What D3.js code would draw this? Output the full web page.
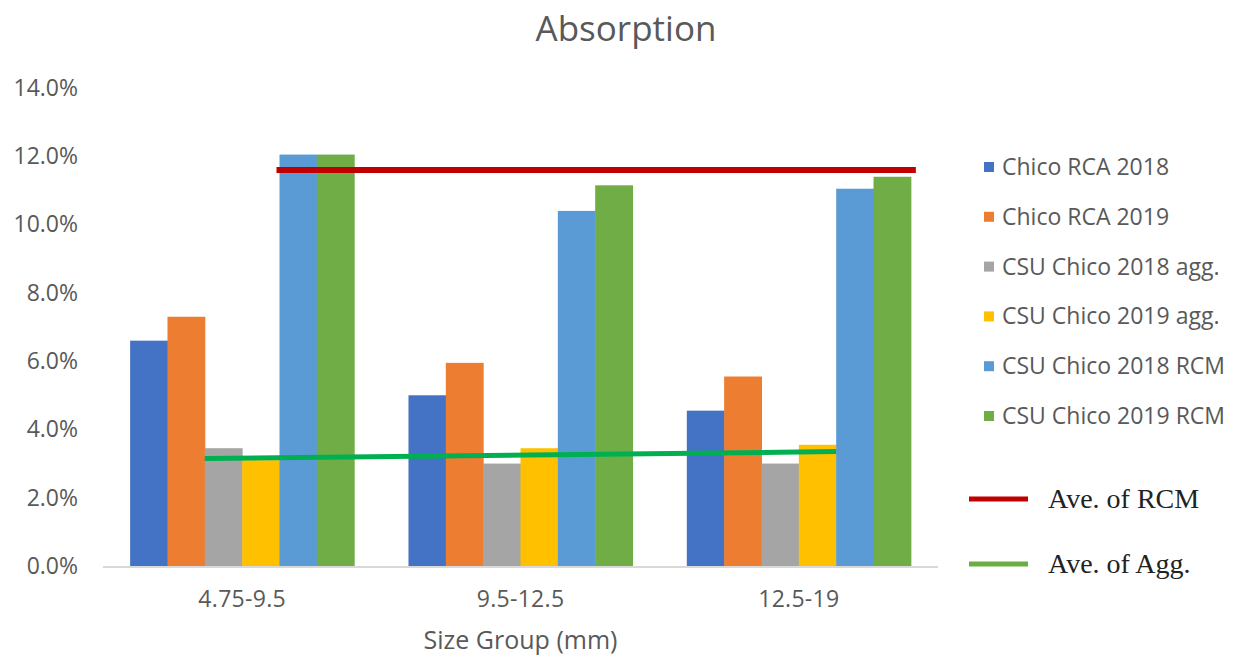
<!DOCTYPE html>
<html>
<head>
<meta charset="utf-8">
<script src="https://cdn.jsdelivr.net/npm/d3@7"></script>
<style>
    body { margin: 0; background: #fff; }
    svg text { font-family: "Open Sans", Lato, sans-serif; fill: #595959; }
</style>
</head>
<body>
<div id="chart"></div>
<script>
// categories (size groups)
const categories = ["4.75-9.5", "9.5-12.5", "12.5-19"];
const seriesNames = ["Chico RCA 2018", "Chico RCA 2019", "CSU Chico 2018 agg.",
    "CSU Chico 2019 agg.", "CSU Chico 2018 RCM", "CSU Chico 2019 RCM"];
// values in %
const chicoRca2018 = [6.6, 5.0, 4.55];
const chicoRca2019 = [7.3, 5.95, 5.55];
const csu2018Agg = [3.45, 3.0, 3.0];
const csu2019Agg = [3.1, 3.45, 3.55];
const csu2018Rcm = [12.05, 10.4, 11.05];
const csu2019Rcm = [12.05, 11.15, 11.4];
// the two hand drawn average lines (start, end)
const aveRcm = [11.6, 11.6];
const aveAgg = [3.15, 3.35];
const yTicks = [0, 2, 4, 6, 8, 10, 12, 14];

const allSeries = [chicoRca2018, chicoRca2019, csu2018Agg, csu2019Agg, csu2018Rcm, csu2019Rcm];
const colors = ["#4472c4", "#ed7d31", "#a5a5a5", "#ffc000", "#5b9bd5", "#70ad47"];

let width = 1237, height = 658;
let margin = {top: 88, right: 299, bottom: 92, left: 103};

let svg = d3.select("#chart").append("svg")
    .attr("width", width)
    .attr("height", height);

let x0 = d3.scaleBand()
    .domain(categories)
    .range([margin.left, width - margin.right])
    .paddingInner(0.195)
    .paddingOuter(0.0975);

let x1 = d3.scaleBand()
    .domain(d3.range(seriesNames.length))
    .range([0, x0.bandwidth()]);

let y = d3.scaleLinear()
    .domain([0, 14])
    .range([height - margin.bottom, margin.top]);

// title
svg.append("text")
    .attr("x", 626)
    .attr("y", 41)
    .attr("text-anchor", "middle")
    .style("font-size", "35px")
    .text("Absorption");

// y axis, labels only
let gy = svg.append("g")
    .attr("transform", "translate(" + (margin.left - 25) + ",0)")
    .call(d3.axisLeft(y).tickValues(yTicks).tickSize(0)
        .tickFormat(function (d) { return d.toFixed(1) + "%"; }));
gy.select(".domain").remove();
gy.selectAll("text")
    .attr("x", 0)
    .style("font-size", "23px")
    .style("fill", "#595959");

// bars
let groups = svg.selectAll(".grp")
    .data(categories)
    .enter()
    .append("g")
    .attr("transform", function (d) { return "translate(" + x0(d) + ",0)"; });

groups.selectAll("rect")
    .data(function (d, i) {
        return allSeries.map(function (s, j) { return {j: j, v: s[i]}; });
    })
    .enter()
    .append("rect")
    .attr("x", function (d) { return x1(d.j); })
    .attr("width", x1.bandwidth() + 0.5)
    .attr("y", function (d) { return y(d.v); })
    .attr("height", function (d) { return y(0) - y(d.v); })
    .style("fill", function (d) { return colors[d.j]; });

// baseline
svg.append("line")
    .attr("x1", margin.left)
    .attr("x2", width - margin.right)
    .attr("y1", y(0) + 1)
    .attr("y2", y(0) + 1)
    .style("stroke", "#d9d9d9")
    .style("stroke-width", 2);

// x labels
let gx = svg.append("g")
    .attr("transform", "translate(0," + y(0) + ")")
    .call(d3.axisBottom(x0).tickSize(0).tickPadding(25));
gx.select(".domain").remove();
gx.selectAll("text")
    .style("font-size", "23px")
    .style("letter-spacing", "0.3px")
    .style("fill", "#595959");

svg.append("text")
    .attr("x", x0.range()[0] + (x0.range()[1] - x0.range()[0]) / 2)
    .attr("y", 649)
    .attr("text-anchor", "middle")
    .style("font-size", "25px")
    .text("Size Group (mm)");

// average lines
svg.append("line")
    .attr("x1", x0(categories[0]) + x1(4) - 3)
    .attr("x2", x0(categories[2]) + x1(5) + x1.bandwidth() + 5)
    .attr("y1", y(aveRcm[0]))
    .attr("y2", y(aveRcm[1]))
    .style("stroke", "#c00000")
    .style("stroke-width", 6);

svg.append("line")
    .attr("x1", x0(categories[0]) + x1(2))
    .attr("x2", x0(categories[2]) + x1(3) + x1.bandwidth())
    .attr("y1", y(aveAgg[0]))
    .attr("y2", y(aveAgg[1]))
    .style("stroke", "#00b050")
    .style("stroke-width", 5);

// legend
let legend = svg.append("g")
    .attr("transform", "translate(984,167)");

let items = legend.selectAll(".item")
    .data(seriesNames)
    .enter()
    .append("g")
    .attr("transform", function (d, i) { return "translate(0," + i * 49.8 + ")"; });

items.append("rect")
    .attr("x", 0)
    .attr("y", -5)
    .attr("width", 10)
    .attr("height", 10)
    .style("fill", function (d, i) { return colors[i]; });

items.append("text")
    .attr("x", 18)
    .attr("y", 8)
    .style("font-size", "23px")
    .text(function (d) { return d; });

let lineLegend = [
    {name: "Ave. of RCM", color: "#c00000", y: 499},
    {name: "Ave. of Agg.", color: "#6aad45", y: 564}
];
let ll = svg.selectAll(".ll")
    .data(lineLegend)
    .enter()
    .append("g");
ll.append("line")
    .attr("x1", 969)
    .attr("x2", 1028)
    .attr("y1", function (d) { return d.y; })
    .attr("y2", function (d) { return d.y; })
    .style("stroke", function (d) { return d.color; })
    .style("stroke-width", 5);
ll.append("text")
    .attr("x", 1048)
    .attr("y", function (d) { return d.y + 9; })
    .style("font-family", "'Liberation Serif', 'Times New Roman', serif")
    .style("font-size", "28px")
    .style("fill", "#222")
    .text(function (d) { return d.name; });
</script>
</body>
</html>
